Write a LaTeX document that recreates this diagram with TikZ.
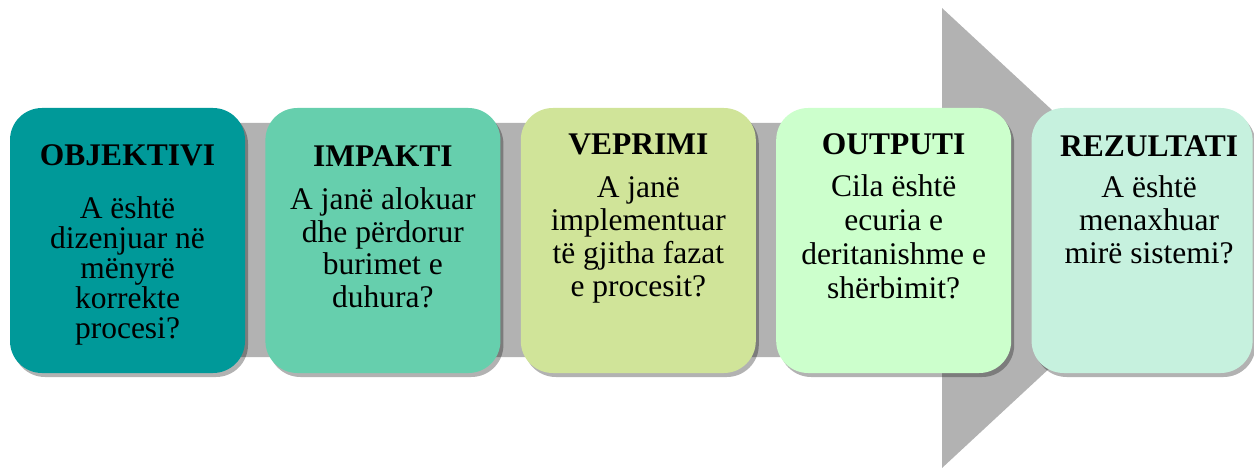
\documentclass[tikz,border=0pt]{standalone}
\usepackage{fontspec}
\setmainfont{Liberation Serif}
\usetikzlibrary{positioning,shadows}
\definecolor{arrowgray}{HTML}{B2B2B2}
\definecolor{objcolor}{HTML}{009999}
\definecolor{impcolor}{HTML}{66CFAD}
\definecolor{vepcolor}{HTML}{D0E499}
\definecolor{outcolor}{HTML}{CCFFCC}
\definecolor{rezcolor}{HTML}{C6F1DE}

\begin{document}
\begin{tikzpicture}[x=1pt, y=-1pt, stage node/.style={rectangle, rounded corners=32pt,
        minimum width=235pt, minimum height=265pt, inner sep=0pt,
        drop shadow={shadow xshift=3pt, shadow yshift=-4pt, opacity=0.3, fill=black}},
        head node/.style={inner sep=0pt, font=\fontsize{31.5}{33}\selectfont\bfseries},
        body node/.style={inner sep=0pt, align=center, font=\fontsize{31.5}{33}\selectfont}]
        \useasboundingbox (0,0) rectangle (1254,468);
        \fill[arrowgray] (20,123) -- (942,123) -- (942,8) -- (1190,238) -- (942,468)
            -- (942,357) -- (20,357) -- cycle;

        \node[stage node, fill=objcolor] (objektivi) at (127.5,240.5) {};
        \node[stage node, fill=impcolor, right=20pt of objektivi] (impakti) {};
        \node[stage node, fill=vepcolor, right=20pt of impakti] (veprimi) {};
        \node[stage node, fill=outcolor, right=20pt of veprimi] (outputi) {};
        \node[stage node, fill=rezcolor, minimum width=221pt, right=20pt of outputi] (rezultati) {};

        \node[head node, below=36.7pt of objektivi.north] (objektivi head) {OBJEKTIVI};
        \node[body node, font=\fontsize{31.5}{30}\selectfont, below=88.5pt of objektivi.north]
            (objektivi body) {A është\\dizenjuar në\\mënyrë\\korrekte\\procesi?};
        \node[head node, below=37.7pt of impakti.north] (impakti head) {IMPAKTI};
        \node[body node, font=\fontsize{31.5}{32.7}\selectfont, below=79.5pt of impakti.north]
            (impakti body) {A janë alokuar\\dhe përdorur\\burimet e\\duhura?};
        \node[head node, below=25.7pt of veprimi.north] (veprimi head) {VEPRIMI};
        \node[body node, below=68.5pt of veprimi.north]
            (veprimi body) {A janë\\implementuar\\të gjitha fazat\\e procesit?};
        \node[head node, below=25.7pt of outputi.north] (outputi head) {OUTPUTI};
        \node[body node, font=\fontsize{31.5}{34}\selectfont, below=66.5pt of outputi.north]
            (outputi body) {Cila është\\ecuria e\\deritanishme e\\shërbimit?};
        \node[head node, below=27.7pt of rezultati.north, xshift=7pt] (rezultati head) {REZULTATI};
        \node[body node, below=67.5pt of rezultati.north, xshift=7pt]
            (rezultati body) {A është\\menaxhuar\\mirë sistemi?};
    \end{tikzpicture}
\end{document}
